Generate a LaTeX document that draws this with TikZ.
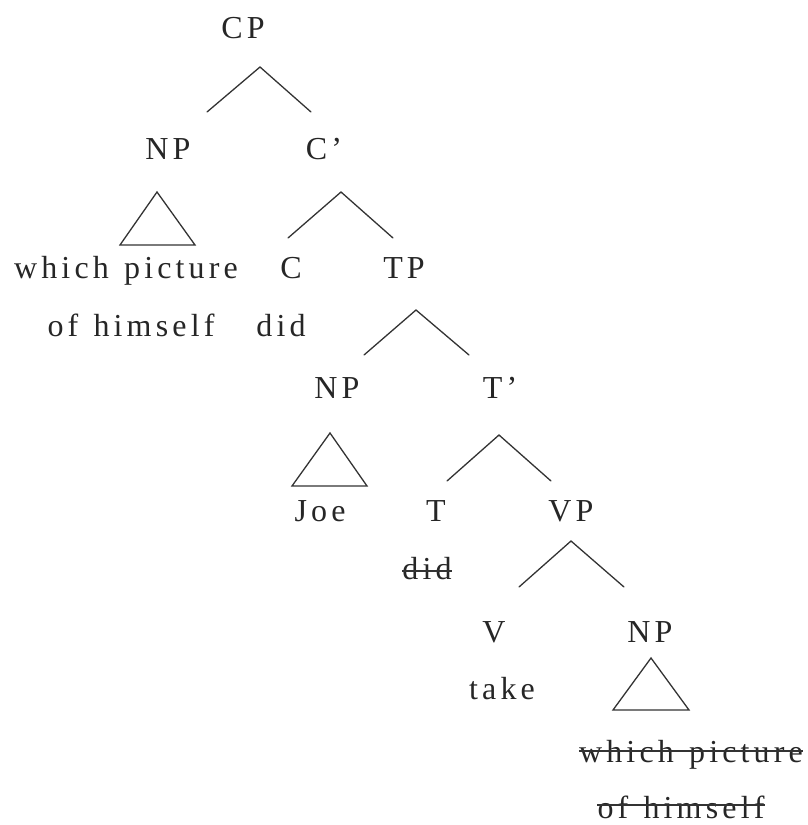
\documentclass[tikz,border=0pt]{standalone}
\usepackage{fontspec}
\setmainfont{Liberation Serif}[LetterSpace=13,WordSpace=1.25]
\begin{document}
\begin{tikzpicture}[x=1pt,y=-1pt,
  lbl/.style={anchor=base,inner sep=0pt,font=\fontsize{32}{32}\selectfont,text=black!85},
  edge/.style={line width=1.3pt,draw=black!80,line cap=round,line join=miter},
  strike/.style={line width=1.1pt,draw=black!80},
  struck/.style={lbl}]
\useasboundingbox (0,0) rectangle (808,825);
% labels
\node[lbl] (cp) at (243,38) {CP};
\node[lbl] (np1) at (168,159) {NP};
\node[lbl] (cbar) at (324,159) {C’};
\node[lbl] (w1) at (126,278) {which picture};
\node[lbl] (h1) at (131,336) {of himself};
\node[lbl] (c) at (291,278) {C};
\node[lbl] (tp) at (404,278) {TP};
\node[lbl] (did1) at (281,336) {did};
\node[lbl] (np2) at (337,398) {NP};
\node[lbl] (tbar) at (500,398) {T’};
\node[lbl] (joe) at (320,521) {Joe};
\node[lbl] (t) at (436,521) {T};
\node[lbl] (vp) at (571,521) {VP};
\node[struck] (did2) at (427,579) {did};
\node[lbl] (v) at (494,642) {V};
\node[lbl] (np3) at (650,642) {NP};
\node[lbl] (take) at (502,699) {take};
\node[struck] (w2) at (691,762) {which picture};
\node[struck] (h2) at (681,818) {of himself};
% branch points
\coordinate (a1) at (260,67);  \coordinate (a1l) at (207,112); \coordinate (a1r) at (311,112);
\coordinate (a2) at (341,192); \coordinate (a2l) at (288,238); \coordinate (a2r) at (393,238);
\coordinate (a3) at (416,310); \coordinate (a3l) at (364,355); \coordinate (a3r) at (469,355);
\coordinate (a4) at (499,435); \coordinate (a4l) at (447,481); \coordinate (a4r) at (551,481);
\coordinate (a5) at (571,541); \coordinate (a5l) at (519,587); \coordinate (a5r) at (624,587);
\draw[edge] (a1l) -- (a1) -- (a1r);
\draw[edge] (a2l) -- (a2) -- (a2r);
\draw[edge] (a3l) -- (a3) -- (a3r);
\draw[edge] (a4l) -- (a4) -- (a4r);
\draw[edge] (a5l) -- (a5) -- (a5r);
% triangles for unanalysed phrases
\draw[edge] (157,192) -- (195,245) -- (120,245) -- cycle;
\draw[edge] (330,433) -- (367,486) -- (292,486) -- cycle;
\draw[edge] (651,658) -- (689,710) -- (613,710) -- cycle;
% strike-through lines for deleted copies
\draw[strike] ([yshift=8pt]did2.base west) -- ([yshift=8pt]did2.base east);
\draw[strike] ([yshift=11pt]w2.base west) -- ([yshift=11pt]w2.base east);
\draw[strike] ([yshift=13pt]h2.base west) -- ([yshift=13pt]h2.base east);
\end{tikzpicture}
\end{document}
